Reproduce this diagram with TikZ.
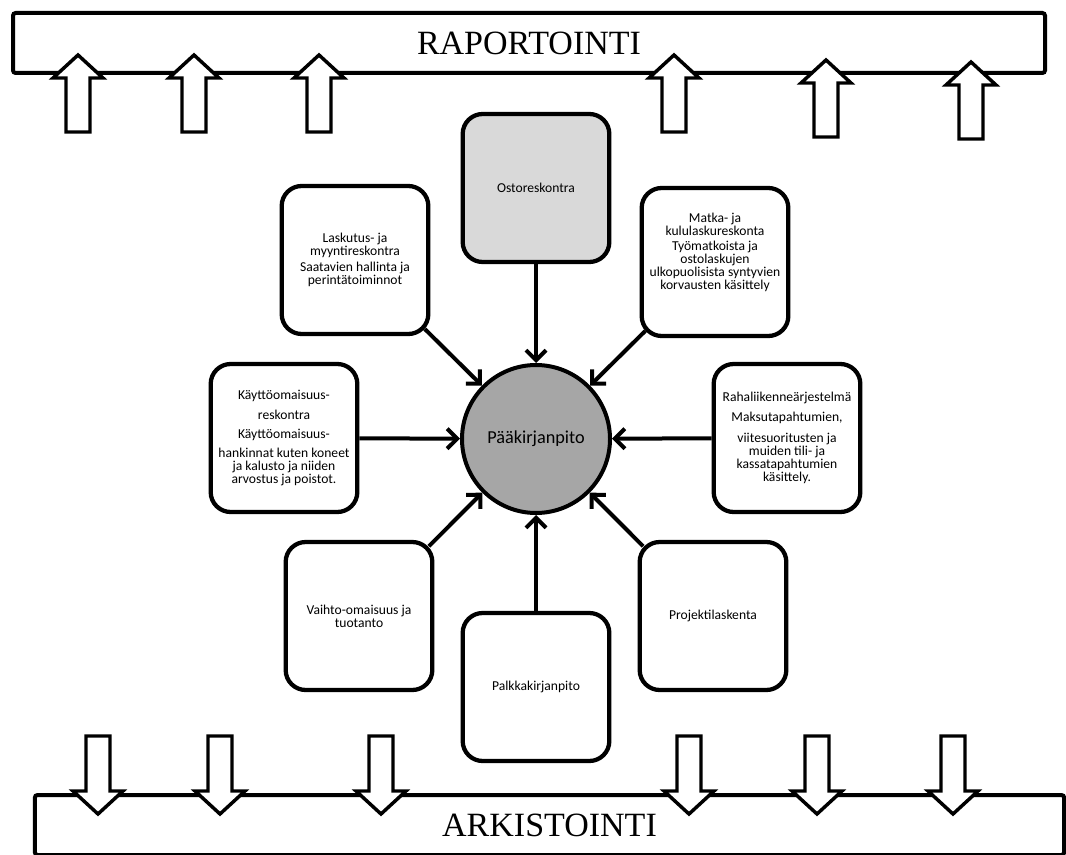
\documentclass[tikz,border=0pt]{standalone}
\usepackage{fontspec}
\setmainfont{Carlito}
\newfontfamily\titlefont{Liberation Serif}
\usetikzlibrary{arrows.meta}

\definecolor{paagray}{HTML}{A6A6A6}
\definecolor{ostogray}{HTML}{D9D9D9}

\tikzset{
  osa/.style={draw, line width=3.2pt, rounded corners=15pt, fill=white, align=center,
    minimum width=110pt, minimum height=111pt, inner sep=2pt,
    font=\fontsize{10.2}{9.8}\selectfont},
  palkki/.style={draw, line width=3pt, rounded corners=2pt, inner sep=0pt,
    font=\titlefont\fontsize{25.5}{25.5}\selectfont},
  nuoli/.style={draw, line width=2.6pt, fill=white},
  yhteys/.style={line width=3pt, -{Straight Barb[length=7.5pt,width=15pt]}},
}

\begin{document}
\begin{tikzpicture}[x=0.75pt,y=0.75pt,yscale=-1,xscale=1]
        \useasboundingbox (0,0) rectangle (1066,855);

        % Bars
        \node[palkki, minimum width=774pt, minimum height=45pt] (rap) at (529,43) {RAPORTOINTI};
        \node[palkki, minimum width=772pt, minimum height=45pt] (ark) at (549.5,825) {ARKISTOINTI};

        % Up Arrows
        \draw[nuoli] (66,132) -- (66,78) -- (53,78) -- (78,55) -- (103,78) -- (90,78) -- (90,132) -- cycle;
        \draw[nuoli] (182,132) -- (182,78) -- (169,78) -- (194,55) -- (219,78) -- (206,78) -- (206,132) -- cycle;
        \draw[nuoli] (307,132) -- (307,78) -- (294,78) -- (319,55) -- (344,78) -- (331,78) -- (331,132) -- cycle;
        \draw[nuoli] (662,132) -- (662,78) -- (649,78) -- (674,55) -- (699,78) -- (686,78) -- (686,132) -- cycle;
        \draw[nuoli] (814,137) -- (814,83) -- (801,83) -- (826,60) -- (851,83) -- (838,83) -- (838,137) -- cycle;
        \draw[nuoli] (959,139) -- (959,85) -- (946,85) -- (971,62) -- (996,85) -- (983,85) -- (983,139) -- cycle;

        % Down Arrows
        \draw[nuoli] (86,736) -- (86,791) -- (73,791) -- (98,814) -- (123,791) -- (110,791) -- (110,736) -- cycle;
        \draw[nuoli] (208,736) -- (208,791) -- (195,791) -- (220,814) -- (245,791) -- (232,791) -- (232,736) -- cycle;
        \draw[nuoli] (369,736) -- (369,791) -- (356,791) -- (381,814) -- (406,791) -- (393,791) -- (393,736) -- cycle;
        \draw[nuoli] (677,736) -- (677,791) -- (664,791) -- (689,814) -- (714,791) -- (701,791) -- (701,736) -- cycle;
        \draw[nuoli] (805,736) -- (805,791) -- (792,791) -- (817,814) -- (842,791) -- (829,791) -- (829,736) -- cycle;
        \draw[nuoli] (941,736) -- (941,791) -- (928,791) -- (953,814) -- (978,791) -- (965,791) -- (965,736) -- cycle;

        % Centre
        \node[circle, draw, line width=3pt, fill=paagray, minimum size=111pt, inner sep=0pt,
              font=\fontsize{13.7}{16}\selectfont] (paa) at (536,439) {Pääkirjanpito};

        % Ledgers
        \node[osa, fill=ostogray] (osto) at (536,188) {Ostoreskontra};
        \node[osa] (lask) at (355,260) {Laskutus- ja\\ myyntireskontra\\[2pt] Saatavien hallinta ja\\ perintätoiminnot};
        \node[osa] (matka) at (715,262) {Matka- ja\\ kululaskureskonta\\[1pt] Työmatkoista ja\\ ostolaskujen\\ ulkopuolisista syntyvien\\ korvausten käsittely\\[6pt]};
        \node[osa] (kayt) at (284,438) {Käyttöomaisuus-\\[5pt] reskontra\\[5pt] Käyttöomaisuus-\\[4pt] hankinnat kuten koneet\\ ja kalusto ja niiden\\ arvostus ja poistot.};
        \node[osa] (raha) at (787,438) {Rahaliikenneärjestelmä\\[4.5pt] Maksutapahtumien,\\[6pt] viitesuoritusten ja\\ muiden tili- ja\\ kassatapahtumien\\ käsittely.};
        \node[osa] (vaih) at (359,616) {Vaihto-omaisuus ja\\ tuotanto};
        \node[osa] (palk) at (536,687) {Palkkakirjanpito};
        \node[osa] (proj) at (713,616) {Projektilaskenta};

        % Connectors
        \draw[yhteys] (osto) -- (paa);
        \draw[yhteys, shorten <=-6pt] (lask) -- (paa);
        \draw[yhteys, shorten <=-6pt] (matka) -- (paa);
        \draw[yhteys] (kayt) -- (paa);
        \draw[yhteys] (raha) -- (paa);
        \draw[yhteys, shorten <=-6pt] (vaih) -- (paa);
        \draw[yhteys] (palk) -- (paa);
        \draw[yhteys, shorten <=-6pt] (proj) -- (paa);

    \end{tikzpicture}
\end{document}
